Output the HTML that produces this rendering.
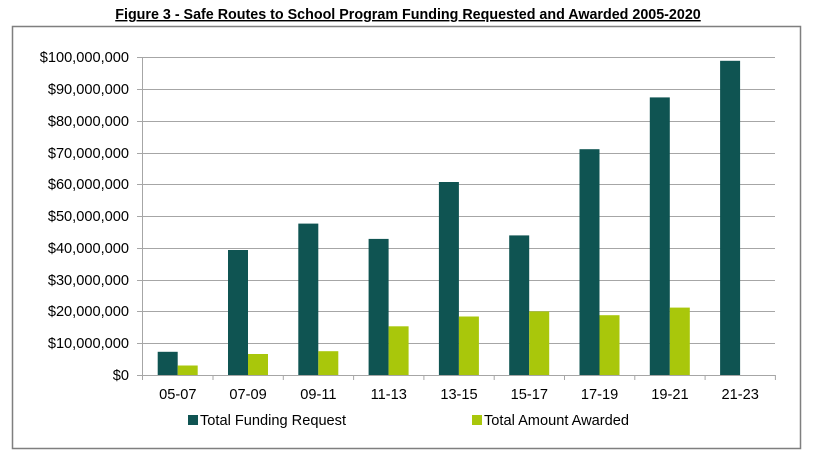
<!DOCTYPE html><html><head><style>body{margin:0;background:#fff}</style></head><body>
<svg width="813" height="456" xmlns="http://www.w3.org/2000/svg" font-family="Liberation Sans, sans-serif">
<rect width="813" height="456" fill="#fff"/>
<text x="408" y="19" text-anchor="middle" font-size="14.3" font-weight="bold" text-decoration="underline">Figure 3 - Safe Routes to School Program Funding Requested and Awarded 2005-2020</text>
<rect x="12.5" y="26.5" width="788" height="422" fill="none" stroke="#7f7f7f" stroke-width="1.5"/>
<g stroke="#a6a6a6" stroke-width="1">
<line x1="137" x2="775" y1="57.5" y2="57.5"/><line x1="137" x2="775" y1="89.5" y2="89.5"/><line x1="137" x2="775" y1="121.5" y2="121.5"/><line x1="137" x2="775" y1="153.5" y2="153.5"/><line x1="137" x2="775" y1="184.5" y2="184.5"/><line x1="137" x2="775" y1="216.5" y2="216.5"/><line x1="137" x2="775" y1="248.5" y2="248.5"/><line x1="137" x2="775" y1="280.5" y2="280.5"/><line x1="137" x2="775" y1="311.5" y2="311.5"/><line x1="137" x2="775" y1="343.5" y2="343.5"/><line x1="137" x2="775" y1="375.5" y2="375.5"/>
<line x1="142.5" x2="142.5" y1="57" y2="380"/>
<line x1="213" x2="213" y1="375" y2="380"/><line x1="283.3" x2="283.3" y1="375" y2="380"/><line x1="353.6" x2="353.6" y1="375" y2="380"/><line x1="423.9" x2="423.9" y1="375" y2="380"/><line x1="494.2" x2="494.2" y1="375" y2="380"/><line x1="564.5" x2="564.5" y1="375" y2="380"/><line x1="634.8" x2="634.8" y1="375" y2="380"/><line x1="705.1" x2="705.1" y1="375" y2="380"/><line x1="775.4" x2="775.4" y1="375" y2="380"/>
</g>
<g font-size="14.6" text-anchor="end" fill="#000">
<text x="129" y="62">$100,000,000</text><text x="129" y="94">$90,000,000</text><text x="129" y="126">$80,000,000</text><text x="129" y="158">$70,000,000</text><text x="129" y="189">$60,000,000</text><text x="129" y="221">$50,000,000</text><text x="129" y="253">$40,000,000</text><text x="129" y="285">$30,000,000</text><text x="129" y="316">$20,000,000</text><text x="129" y="348">$10,000,000</text><text x="129" y="380">$0</text>
</g>
<g font-size="14.6" text-anchor="middle">
<text x="177.8" y="399">05-07</text><text x="248.1" y="399">07-09</text><text x="318.4" y="399">09-11</text><text x="388.7" y="399">11-13</text><text x="459" y="399">13-15</text><text x="529.3" y="399">15-17</text><text x="599.6" y="399">17-19</text><text x="669.9" y="399">19-21</text><text x="740.2" y="399">21-23</text>
</g>
<rect x="188" y="415" width="10" height="10" fill="#0f5452"/>
<text x="200" y="425" font-size="14.6">Total Funding Request</text>
<rect x="472" y="415" width="10" height="10" fill="#a9c70b"/>
<text x="484" y="425" font-size="14.6">Total Amount Awarded</text>
<g>
<rect x="157.7" y="351.8" width="20" height="23.2" fill="#0f5452"/><rect x="177.7" y="365.5" width="20" height="9.5" fill="#a9c70b"/>
<rect x="228" y="250" width="20" height="125" fill="#0f5452"/><rect x="248" y="354" width="20" height="21" fill="#a9c70b"/>
<rect x="298.3" y="223.6" width="20" height="151.4" fill="#0f5452"/><rect x="318.3" y="351.2" width="20" height="23.8" fill="#a9c70b"/>
<rect x="368.6" y="238.9" width="20" height="136.1" fill="#0f5452"/><rect x="388.6" y="326.3" width="20" height="48.7" fill="#a9c70b"/>
<rect x="438.9" y="182" width="20" height="193" fill="#0f5452"/><rect x="458.9" y="316.5" width="20" height="58.5" fill="#a9c70b"/>
<rect x="509.2" y="235.4" width="20" height="139.6" fill="#0f5452"/><rect x="529.2" y="311.4" width="20" height="63.6" fill="#a9c70b"/>
<rect x="579.5" y="149.2" width="20" height="225.8" fill="#0f5452"/><rect x="599.5" y="315.2" width="20" height="59.8" fill="#a9c70b"/>
<rect x="649.8" y="97.4" width="20" height="277.6" fill="#0f5452"/><rect x="669.8" y="307.6" width="20" height="67.4" fill="#a9c70b"/>
<rect x="720.1" y="60.8" width="20" height="314.2" fill="#0f5452"/>
</g>
</svg>
</body></html>
